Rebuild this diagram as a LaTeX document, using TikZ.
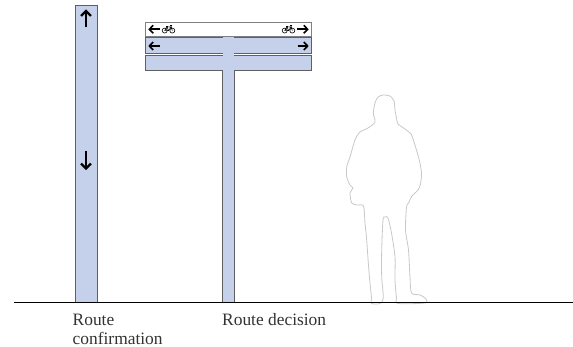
\documentclass[tikz,border=0pt]{standalone}
\usepackage{fontspec}
\setmainfont{Liberation Serif}
\usetikzlibrary{arrows.meta}
\definecolor{signblue}{RGB}{197,208,234}
\definecolor{edgegray}{RGB}{95,95,100}
\definecolor{figgray}{RGB}{200,200,200}
\definecolor{textgray}{RGB}{50,50,50}
\begin{document}
\begin{tikzpicture}[x=1pt,y=-1pt,
  panel/.style={fill=signblue,draw=edgegray,line width=0.8pt},
  signarrow/.style={-{Straight Barb[length=3.8pt,width=8pt]},line width=1.6pt},
  polearrow/.style={-{Straight Barb[length=4.8pt,width=10pt]},line width=2.3pt},
  caption/.style={font=\fontsize{17.4}{18.4}\selectfont,text=textgray,anchor=base west,inner sep=0pt,align=left},
  cycleglyph/.pic={
    \begin{scope}[line width=0.6pt]
      \draw (-3.8,1.6) circle (2.5);
      \draw (3.8,1.6) circle (2.5);
      \draw (-3.8,1.6) -- (0,1.6) -- (-1.4,-2.2);
      \draw (-3.8,1.6) -- (-1.4,-2.2) -- (2.7,-1.9) -- (0,1.6);
      \draw (2.4,-3.2) -- (3.8,1.6);
      \draw (-2.5,-2.5) -- (-0.5,-2.5);
      \draw (1.8,-3.2) -- (3.2,-3.2);
    \end{scope}
  }]
\useasboundingbox (0,0) rectangle (573,347);

% route confirmation pole
\draw[panel] (75,5) rectangle (97,302);
\draw[polearrow] (86,27.5) -- (86,9.5);
\draw[polearrow] (86,151.5) -- (86,170);

% fingerpost panels
\draw[draw=edgegray!80,fill=white,line width=0.8pt] (145,22) rectangle (311.7,36);
\draw[panel] (145,37.5) rectangle (311.7,53.3);
\draw[panel] (145,55.3) rectangle (311.7,70.5);

% central post
\fill[signblue] (222.7,36.6) rectangle (234.3,302);
\draw[edgegray,line width=0.8pt] (222.7,70.5) -- (222.7,302) (234.3,70.5) -- (234.3,302);

% panel symbols
\draw[signarrow] (160,29.3) -- (148.3,29.3);
\draw[signarrow] (297,29.3) -- (308.7,29.3);
\draw[signarrow] (160,46) -- (148.3,46);
\draw[signarrow] (297.5,46) -- (308.7,46);
\pic at (168.5,29) {cycleglyph};
\pic at (288.5,29) {cycleglyph};

% standing figure for scale
\draw[figgray,line width=0.8pt,fill=white] plot[smooth cycle,tension=0.45] coordinates {
 (383.3,95) (390,96) (394,101) (395,110) (396.5,118) (398,124)
 (405,129) (411,134) (414,142) (416.5,150) (419.5,161) (421.5,173)
 (420.5,184) (418,190) (412,196) (408.5,203) (406.5,207)
 (405.5,230) (408.5,250) (410,277) (411.5,293) (420,295) (426,299)
 (425,303) (398,303.5) (396.5,298) (395,280) (395,257) (391.5,233)
 (388,218) (385,217) (383,220) (381.7,250) (381.7,277) (383.3,298)
 (380,303.5) (371.5,303.5) (371.5,298) (370,283) (368.3,263)
 (366.7,240) (365,223) (363.5,206) (357,205) (351.7,203) (350,193)
 (353,188) (350,185) (346.7,177) (346.7,167) (350,157) (355,140)
 (360,132) (368,128) (375,122) (373.3,113) (375,103) (378,97)};

% ground
\draw[black,line width=0.9pt] (14,302) -- (573,302);

% captions (base anchor sits on the last line)
\node[caption] (confirm) at (72.5,344.3) {Route\\confirmation};
\node[caption] (decide) at (222,326) {Route decision};
\end{tikzpicture}
\end{document}
